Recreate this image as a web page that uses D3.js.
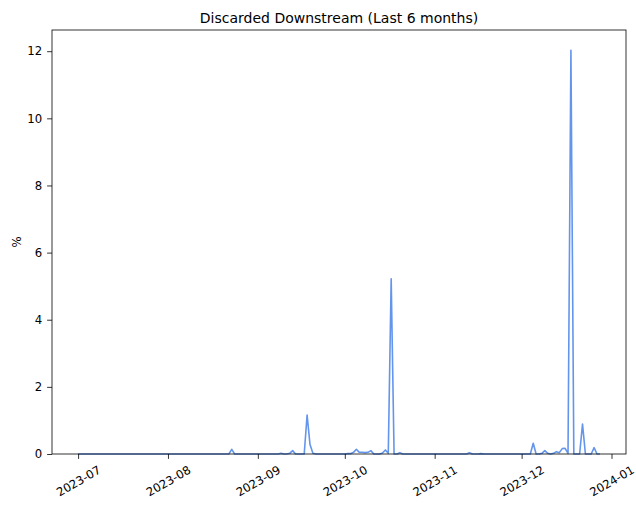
<!DOCTYPE html>
<html>
<head>
<meta charset="utf-8">
<script src="https://cdn.jsdelivr.net/npm/d3@7"></script>
<style>
  html, body { margin: 0; padding: 0; background: #fff; }
  svg { display: block; font-family: "DejaVu Sans", sans-serif; }
</style>
</head>
<body>
<svg id="chart" width="636" height="509"></svg>
<script>
// Daily discarded-downstream percentage, 2023-07-01 .. 2023-12-28
const startDate = "2023-07-01";
const julValues = [0,0,0,0,0,0,0,0,0,0, 0,0,0,0,0,0,0,0,0,0, 0,0,0,0,0,0,0,0,0,0, 0];
const augValues = [0,0,0,0,0,0,0,0,0,0, 0,0,0,0,0,0,0,0,0,0, 0,0,0.14,0,0,0,0,0,0,0, 0];
const sepValues = [0,0,0,0,0,0,0,0,0.02,0, 0,0.02,0.10,0,0,0,0,1.16,0.28,0.02, 0,0,0,0,0,0,0,0,0,0];
const octValues = [0,0.01,0.01,0.05,0.14,0.05,0.05,0.04,0.05,0.10, 0,0,0,0.03,0.12,0.02,5.22,0,0,0.04, 0,0,0,0,0,0,0,0,0,0, 0];
const novValues = [0,0,0,0,0,0,0,0,0,0, 0,0,0.04,0,0,0,0.01,0,0,0, 0,0,0,0,0,0,0,0,0,0];
const decValues = [0,0,0,0,0.32,0,0,0.02,0.10,0.02, 0,0.02,0.07,0.04,0.16,0.17,0.02,12.03,0,0, 0,0.89,0,0,0,0.19,0,0];

const yTicks = [0, 2, 4, 6, 8, 10, 12];
const titleText = "Discarded Downstream (Last 6 months)";
const yLabel = "%";

const values = [].concat(julValues, augValues, sepValues, octValues, novValues, decValues);
const t0 = d3.utcParse("%Y-%m-%d")(startDate);
const data = values.map((v, i) => ({ date: d3.utcDay.offset(t0, i), value: v }));

const svg = d3.select("#chart");
const plot = { left: 52, right: 626, top: 30, bottom: 454 };

// matplotlib-style 5% padding on the time axis
const tMin = data[0].date, tMax = data[data.length - 1].date;
const span = tMax - tMin;
const x = d3.scaleUtc()
  .domain([new Date(+tMin - span * 0.05), new Date(+tMax + span * 0.05)])
  .range([plot.left, plot.right]);
const yMax = d3.max(values) * 1.05;
const y = d3.scaleLinear().domain([0, yMax]).range([plot.bottom, plot.top]);

// data line
const line = d3.line().x(d => x(d.date)).y(d => y(d.value));
svg.append("path")
  .datum(data)
  .attr("fill", "none")
  .attr("stroke", "#6495ED")
  .attr("stroke-width", 1.6)
  .attr("stroke-linejoin", "round")
  .attr("d", line);

// frame
svg.append("rect")
  .attr("x", plot.left).attr("y", plot.top)
  .attr("width", plot.right - plot.left).attr("height", plot.bottom - plot.top)
  .attr("fill", "none").attr("stroke", "#000").attr("stroke-width", 0.8);

// y axis
const yAxis = d3.axisLeft(y).tickValues(yTicks).tickSize(4.9).tickPadding(4.9).tickFormat(d3.format("d"));
const gy = svg.append("g").attr("transform", `translate(${plot.left},0)`).call(yAxis);
gy.select(".domain").remove();
gy.selectAll(".tick line").attr("stroke", "#000").attr("stroke-width", 0.8);
gy.selectAll(".tick text").attr("font-size", 11.7).attr("font-family", "DejaVu Sans").attr("fill", "#000");

// x axis: monthly ticks
const monthTicks = d3.utcMonth.range(d3.utcMonth.ceil(x.domain()[0]), x.domain()[1]);
const xAxis = d3.axisBottom(x).tickValues(monthTicks).tickSize(4.9).tickFormat(d3.utcFormat("%Y-%m"));
const gx = svg.append("g").attr("transform", `translate(0,${plot.bottom})`).call(xAxis);
gx.select(".domain").remove();
gx.selectAll(".tick line").attr("stroke", "#000").attr("stroke-width", 0.8);
gx.selectAll(".tick text").each(function () {
  const t = d3.select(this);
  t.attr("font-size", 11.7).attr("font-family", "DejaVu Sans").attr("fill", "#000")
    .attr("dy", null).attr("y", null)
    .attr("text-anchor", "middle").attr("dominant-baseline", "central");
  const w = this.getComputedTextLength();
  const h = 11.7 * 1.17;
  const a = Math.PI / 6;
  const bh = w * Math.sin(a) + h * Math.cos(a);
  const cy = 9 + bh / 2;
  t.attr("transform", `translate(0,${cy}) rotate(-30)`);
});

// title
svg.append("text")
  .attr("x", (plot.left + plot.right) / 2).attr("y", plot.top - 7)
  .attr("text-anchor", "middle")
  .attr("font-size", 14)
  .attr("fill", "#000")
  .text(titleText);

// y label
svg.append("text")
  .attr("transform", `translate(21,${(plot.top + plot.bottom) / 2}) rotate(-90)`)
  .attr("text-anchor", "middle")
  .attr("font-size", 11.7)
  .attr("fill", "#000")
  .text(yLabel);
</script>
</body>
</html>
